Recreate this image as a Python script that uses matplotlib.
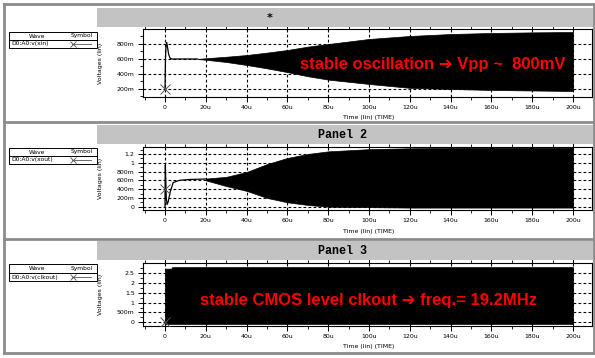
import matplotlib
matplotlib.use("Agg")
import matplotlib.pyplot as plt
import matplotlib.patches as mpatches
from matplotlib.lines import Line2D
from matplotlib.ticker import MultipleLocator, AutoMinorLocator, FixedLocator

W, H = 595, 358

# ---- data (time in us, volts) ----
# panel 1 : v(xin)
xin_t = [0, 0.2, 0.5, 0.8, 1.2, 1.8, 2.5, 3.4, 10, 16]
xin_v = [0.2, 0.6, 0.78, 0.82, 0.76, 0.66, 0.61, 0.6, 0.6, 0.6]
xin_env_t = [16, 20, 30, 40, 50, 60, 70, 80, 100, 120, 140, 160, 180, 200]
xin_env_hi = [0.6, 0.61, 0.63, 0.653, 0.685, 0.72, 0.765, 0.8, 0.867, 0.907,
              0.933, 0.947, 0.955, 0.96]
xin_env_lo = [0.6, 0.59, 0.56, 0.52, 0.475, 0.425, 0.37, 0.325, 0.267, 0.215,
              0.2, 0.187, 0.18, 0.173]

# panel 2 : v(xout)
xout_t = [0, 0.05, 0.15, 0.3, 0.6, 1.0, 1.6, 2.5, 4.0, 7.0, 12, 20]
xout_v = [0.0, 0.6, 0.95, 0.7, 0.2, 0.05, 0.12, 0.33, 0.55, 0.6, 0.62, 0.63]
xout_env_t = [20, 30, 40, 50, 60, 70, 80, 100, 120, 150, 200]
xout_env_hi = [0.64, 0.68, 0.79, 0.97, 1.11, 1.2, 1.26, 1.31, 1.33, 1.34,
               1.34]
xout_env_lo = [0.6, 0.47, 0.36, 0.2, 0.1, 0.04, 0.0, -0.01, -0.02, -0.02,
               -0.02]

# panel 3 : v(clkout)
clk_env_t = [0, 3, 3.5, 200]
clk_env_hi = [2.72, 2.72, 2.8, 2.8]
clk_env_lo = [-0.08, -0.08, -0.08, -0.08]

x_ticks = [0, 20, 40, 60, 80, 100, 120, 140, 160, 180, 200]
x_labels = ["0"] + ["%du" % v for v in x_ticks[1:]]

panels = [
    # title, wave name, axes top/bottom px, ylim, yticks, ylabels, marker
    ("*", "D0:A0:v(xin)", 29.3, 96.7, (0.097, 0.996),
     [0.2, 0.4, 0.6, 0.8], ["200m", "400m", "600m", "800m"], (0, 0.2)),
    ("Panel 2", "D0:A0:v(xout)", 146.7, 210, (-0.075, 1.366),
     [0, 0.2, 0.4, 0.6, 0.8, 1.0, 1.2],
     ["0", "200m", "400m", "600m", "800m", "1", "1.2"], (0, 0.4)),
    ("Panel 3", "D0:A0:v(clkout)", 263.3, 325.7, (-0.17, 2.99),
     [0, 0.5, 1.0, 1.5, 2.0, 2.5], ["0", "500m", "1", "1.5", "2", "2.5"],
     (0, 0.0)),
]

headers = [(8, 27), (125, 144), (241, 260)]
title_x = [270, 318, 318]
legend_y = [(32, 40, 48), (148, 156, 164), (264, 273, 281)]

fig = plt.figure(figsize=(W / 100, H / 100), dpi=100)


def fx(x):
    return x / W


def fy(y):
    return 1 - y / H


def rect(x0, y0, x1, y1, **kw):
    r = mpatches.Rectangle((fx(x0), fy(y1)), fx(x1 - x0), (y1 - y0) / H,
                           transform=fig.transFigure, **kw)
    fig.add_artist(r)


def hline(x0, x1, y, **kw):
    fig.add_artist(Line2D([fx(x0), fx(x1)], [fy(y), fy(y)],
                          transform=fig.transFigure, **kw))


def vline(x, y0, y1, **kw):
    fig.add_artist(Line2D([fx(x), fx(x)], [fy(y0), fy(y1)],
                          transform=fig.transFigure, **kw))


# outer frame and panel separators
border = dict(color="#8c8c8c", lw=2)
vline(4, 4, 353, **border)
vline(594, 4, 353, **border)
for yy in [4, 122, 239, 353]:
    hline(4, 594, yy, **border)

left, right = 143, 592
axes = []
for i, (title, wave, top, bot, ylim, yt, yl, mk) in enumerate(panels):
    # gray header strip with title
    rect(97, headers[i][0], 593, headers[i][1], fc="#c3c3c3", ec="none")
    hy = (headers[i][0] + headers[i][1]) / 2
    if title == "*":
        fig.text(fx(title_x[i]), fy(hy), title, fontsize=8, weight="bold",
                 ha="center", va="center")
    else:
        fig.text(fx(title_x[i]), fy(hy), title, fontsize=8.5, weight="bold",
                 family="Liberation Mono", ha="left", va="center")

    # wave / symbol legend box
    ly0, ly1, ly2 = legend_y[i]
    rect(9, ly0, 97, ly2, fc="white", ec="black", lw=0.7)
    hline(9, 97, ly1, color="black", lw=0.7)
    fig.text(fx(37), fy((ly0 + ly1) / 2), "Wave", fontsize=4.3,
             ha="center", va="center")
    fig.text(fx(82), fy((ly0 + ly1) / 2), "Symbol", fontsize=4.3,
             ha="center", va="center")
    fig.text(fx(11), fy((ly1 + ly2) / 2), wave, fontsize=4.3,
             ha="left", va="center")
    hline(72, 91, (ly1 + ly2) / 2, color="#555555", lw=0.6)
    fig.add_artist(Line2D([fx(73)], [fy((ly1 + ly2) / 2)], marker="x",
                          ms=5, mew=0.6, color="#555555",
                          transform=fig.transFigure))

    ax = fig.add_axes([fx(left), fy(bot), fx(right - left), (bot - top) / H])
    axes.append(ax)
    ax.set_xlim(-10.8, 209.3)
    ax.set_ylim(*ylim)
    ax.xaxis.set_major_locator(FixedLocator(x_ticks))
    ax.set_xticklabels(x_labels)
    ax.xaxis.set_minor_locator(MultipleLocator(10))
    ax.set_yticks(yt)
    ax.set_yticklabels(yl)
    ax.yaxis.set_minor_locator(AutoMinorLocator(2))
    ax.tick_params(axis="both", which="major", labelsize=4.5, length=3.5,
                   width=0.7, pad=2.5)
    ax.tick_params(axis="both", which="minor", length=2, width=0.6)
    ax.tick_params(axis="x", which="both", direction="out", top=True)
    ax.tick_params(axis="y", which="both", direction="out")
    ax.grid(True, which="major", color="black", ls=(0, (2.5, 2)), lw=0.8)
    ax.set_axisbelow(True)
    for s in ax.spines.values():
        s.set_linewidth(0.8)
    ax.set_ylabel("Voltages (lin)", fontsize=4.5, labelpad=2)
    ax.yaxis.set_label_coords((103 - left) / (right - left), 0.5)
    ax.set_xlabel("Time (lin) (TIME)", fontsize=4.5)
    ax.xaxis.set_label_coords((369 - left) / (right - left),
                              -18.5 / (bot - top))
    ax.plot([mk[0]], [mk[1]], marker="x", ms=7, mew=0.7, color="#555555",
            zorder=4)

ax1, ax2, ax3 = axes
ax1.plot(xin_t, xin_v, color="black", lw=0.9, zorder=3)
ax1.fill_between(xin_env_t, xin_env_lo, xin_env_hi, color="black", lw=0.5,
                 zorder=3)
ax2.plot(xout_t, xout_v, color="black", lw=0.9, zorder=3)
ax2.fill_between(xout_env_t, xout_env_lo, xout_env_hi, color="black",
                 lw=0.5, zorder=3)
ax3.fill_between(clk_env_t, clk_env_lo, clk_env_hi, color="black", lw=0.5,
                 zorder=3)

red = dict(color="#ff0000", weight="bold", fontsize=12,
           family=["Liberation Sans", "DejaVu Sans"], va="center", ha="left")
fig.text(fx(300), fy(65), "stable oscillation \u2794 Vpp ~  800mV", **red)
fig.text(fx(200), fy(300), "stable CMOS level clkout \u2794 freq.= 19.2MHz",
         **red)

fig.savefig("out.png", dpi=100)
